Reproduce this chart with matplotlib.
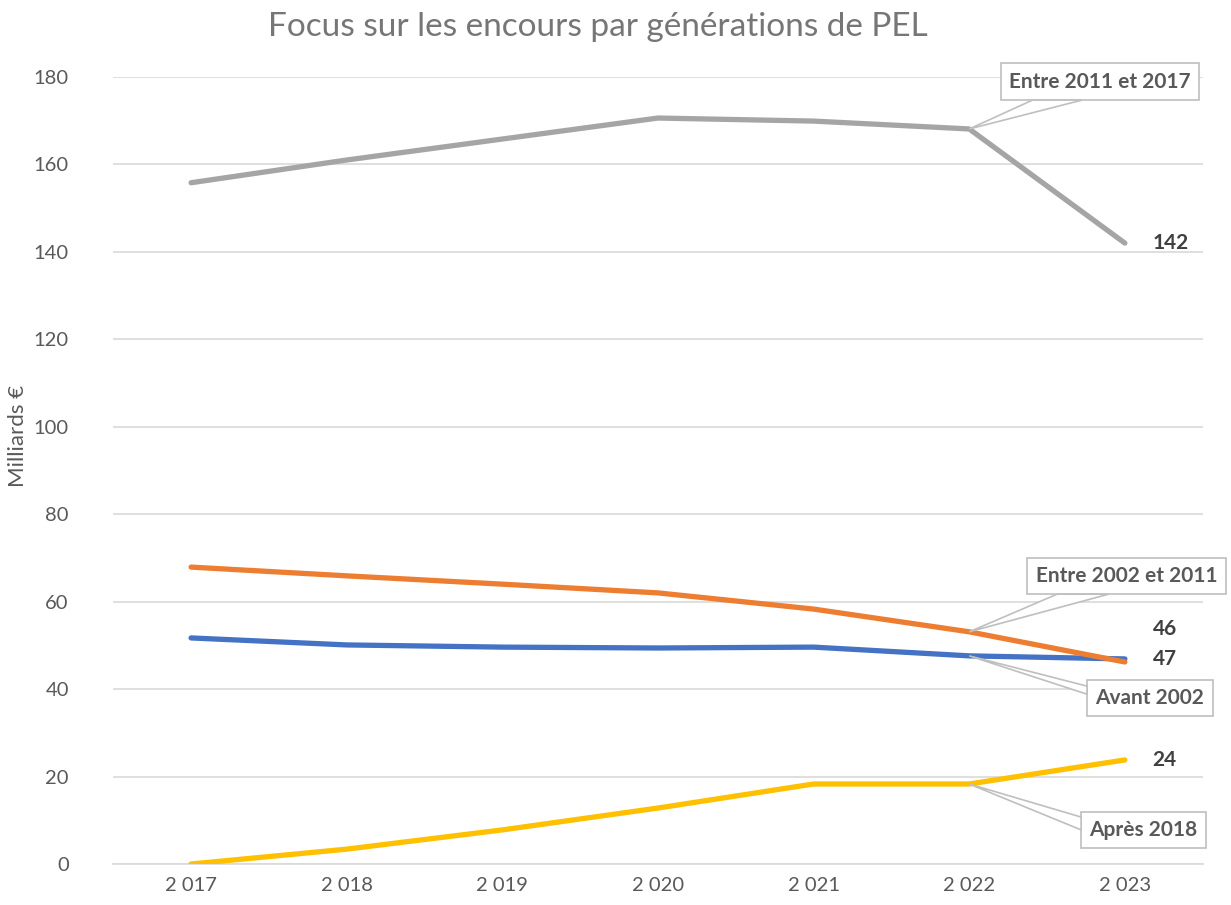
import numpy as np
import matplotlib.pyplot as plt
from matplotlib.patches import Polygon
from matplotlib.transforms import IdentityTransform

plt.rcParams['font.family'] = ['Lato', 'DejaVu Sans']

# Données (milliards €)
annees = ["2 017", "2 018", "2 019", "2 020", "2 021", "2 022", "2 023"]
avant_2002 = [51.7, 50.1, 49.6, 49.4, 49.6, 47.6, 46.9]
entre_2002_2011 = [67.9, 65.9, 64.0, 62.0, 58.3, 53.1, 46.2]
entre_2011_2017 = [155.8, 161.0, 165.8, 170.6, 169.9, 168.1, 142.0]
apres_2018 = [0.0, 3.4, 7.8, 12.8, 18.3, 18.3, 23.8]

# nom, valeurs, couleur, étiquette finale, position bulle, décalage étiquette,
# côté de la bulle où part la pointe et fractions le long de ce côté
series = [
    ("Avant 2002", avant_2002, "#4472C4", "47", (6.16, 38.0), 0, 'left', (0.82, 0.6)),
    ("Entre 2002 et 2011", entre_2002_2011, "#ED7D31", "46", (6.01, 65.9), 24, 'bottom', (0.15, 0.41)),
    ("Entre 2011 et 2017", entre_2011_2017, "#A5A5A5", "142", (5.84, 178.9), 0, 'bottom', (0.16, 0.41)),
    ("Après 2018", apres_2018, "#FFC000", "24", (6.12, 7.8), 0, 'left', (0.85, 0.5)),
]

fig = plt.figure(figsize=(12.31, 9.05), dpi=100)
ax = fig.add_axes([0.092, 0.0453, 0.885, 0.8697])
x = np.arange(len(annees))

bulles = []
for nom, vals, couleur, lab, pos_box, dy, cote, fr in series:
    ax.plot(x, vals, color=couleur, lw=3.8, solid_capstyle='round', zorder=3)
    # étiquette de valeur finale
    ax.annotate(lab, xy=(x[-1], vals[-1]), xytext=(20, dy), textcoords='offset points',
                ha='left', va='center', fontsize=15, fontweight='bold', color='#404040',
                annotation_clip=False, zorder=5)
    # bulle avec le nom de la série
    t = ax.text(pos_box[0], pos_box[1], nom, ha='center', va='center', fontsize=15,
                fontweight='bold', color='#595959', clip_on=False, zorder=7,
                bbox=dict(boxstyle='square,pad=0.4', fc='white', ec='#BFBFBF', lw=1.2))
    bulles.append((t, (x[-2], vals[-2]), cote, fr))

ax.set_xlim(-0.5, len(annees) - 0.5)
ax.set_ylim(0, 180)
ax.set_yticks(np.arange(0, 181, 20))
ax.set_xticks(x)
ax.set_xticklabels(annees)
ax.grid(axis='y', color='#D9D9D9', lw=1.2)
ax.set_axisbelow(True)
for s in ['top', 'right', 'left']:
    ax.spines[s].set_visible(False)
ax.spines['bottom'].set_color('#D9D9D9')
ax.spines['bottom'].set_linewidth(1.2)
ax.tick_params(length=0, labelsize=14.5, colors='#595959', pad=9)
ax.tick_params(axis='y', pad=32)
ax.set_ylabel("Milliards €", fontsize=16, color='#595959')
ax.yaxis.set_label_coords(-0.078, 0.544)

fig.text(598 / 1231, 1 - 27 / 905, "Focus sur les encours par générations de PEL",
         ha='center', va='center', fontsize=24, color='#767676')

# pointes des bulles (triangle de la bulle vers le point 2022)
fig.canvas.draw()
for t, pt, cote, fr in bulles:
    bb = t.get_bbox_patch().get_window_extent()
    apex = ax.transData.transform(pt)
    if cote == 'bottom':
        p1 = (bb.x0 + fr[0] * bb.width, bb.y0)
        p2 = (bb.x0 + fr[1] * bb.width, bb.y0)
    else:
        p1 = (bb.x0, bb.y0 + fr[0] * bb.height)
        p2 = (bb.x0, bb.y0 + fr[1] * bb.height)
    fig.patches.append(Polygon([apex, p1, p2], closed=True, fc='white', ec='#BFBFBF',
                               lw=1.2, transform=IdentityTransform(), figure=fig, zorder=6))

plt.savefig("out.png", dpi=100)
